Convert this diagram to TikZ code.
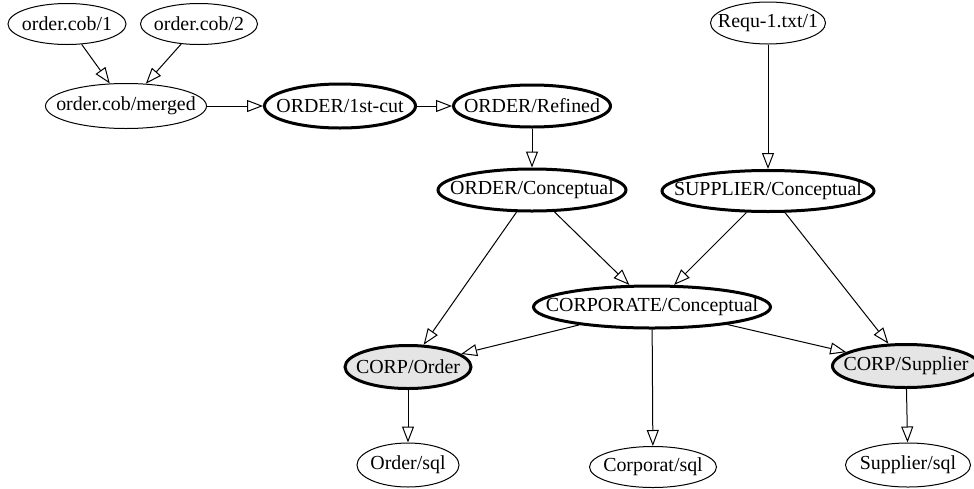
\documentclass[tikz,border=0pt]{standalone}
\usepackage{fontspec}
\setmainfont{Liberation Serif}
\usetikzlibrary{shapes.geometric,arrows.meta}
\definecolor{pkgfill}{gray}{0.9}
% label of zero width, so the ellipse keeps the given size
\newcommand{\vlabel}[1]{\makebox[0pt]{#1}}

\begin{document}
\begin{tikzpicture}[x=1pt, y=-1pt,
    ver/.style={ellipse, draw, line width=1pt, inner sep=0pt,
        font=\fontsize{19.9}{23}\selectfont},
    cpt/.style={ver, line width=3pt},
    pkg/.style={cpt, fill=pkgfill},
    dep/.style={-{Triangle[open, length=16pt, width=12pt]}, line width=1pt}]

    \useasboundingbox (0,0) rectangle (974,488);

    % source files
    \node[ver, minimum width=118pt, minimum height=41pt] (cob1) at (67,24) {\vlabel{order.cob/1}};
    \node[ver, minimum width=117pt, minimum height=41pt] (cob2) at (199,24) {\vlabel{order.cob/2}};
    \node[ver, minimum width=161pt, minimum height=45pt] (merged) at (126,106) {\vlabel{order.cob/merged}};
    \node[ver, minimum width=115pt, minimum height=42pt] (requ) at (768,23) {\vlabel{Requ-1.txt/1}};

    % conceptual models
    \node[cpt, minimum width=151pt, minimum height=44pt] (cut) at (340,106) {\vlabel{ORDER/1st-cut}};
    \node[cpt, minimum width=157pt, minimum height=42pt] (refined) at (532,106) {\vlabel{ORDER/Refined}};
    \node[cpt, minimum width=188pt, minimum height=42pt] (oconc) at (532,190) {\vlabel{ORDER/Conceptual}};
    \node[cpt, minimum width=212pt, minimum height=41pt] (sconc) at (768,191) {\vlabel{SUPPLIER/Conceptual}};
    \node[cpt, minimum width=237pt, minimum height=42pt] (corpc) at (652,307) {\vlabel{CORPORATE/Conceptual}};

    % packages
    \node[pkg, minimum width=126pt, minimum height=43pt] (corder) at (408,367) {\vlabel{CORP/Order}};
    \node[pkg, minimum width=147pt, minimum height=43pt] (csupp) at (906,366) {\vlabel{CORP/Supplier}};

    % sql
    \node[ver, minimum width=102pt, minimum height=44pt] (osql) at (408,465) {\vlabel{Order/sql}};
    \node[ver, minimum width=127pt, minimum height=41pt] (csql) at (653,467) {\vlabel{Corporat/sql}};
    \node[ver, minimum width=125pt, minimum height=44pt] (ssql) at (908,465) {\vlabel{Supplier/sql}};

    % derivations
    \draw[dep] (cob1) -- (merged);
    \draw[dep] (cob2) -- (merged);
    \draw[dep] (merged) -- (cut);
    \draw[dep] (cut) -- (refined);
    \draw[dep] (refined) -- (oconc);
    \draw[dep] (requ) -- (sconc);
    \draw[dep] (oconc) -- (corpc);
    \draw[dep] (sconc) -- (corpc);
    \draw[dep] (oconc) -- (corder);
    \draw[dep] (sconc) -- (csupp);
    \draw[dep] (corpc) -- (corder);
    \draw[dep] (corpc) -- (csupp);
    \draw[dep] (corpc) -- (csql);
    \draw[dep] (corder) -- (osql);
    \draw[dep] (csupp) -- (ssql);

\end{tikzpicture}
\end{document}
